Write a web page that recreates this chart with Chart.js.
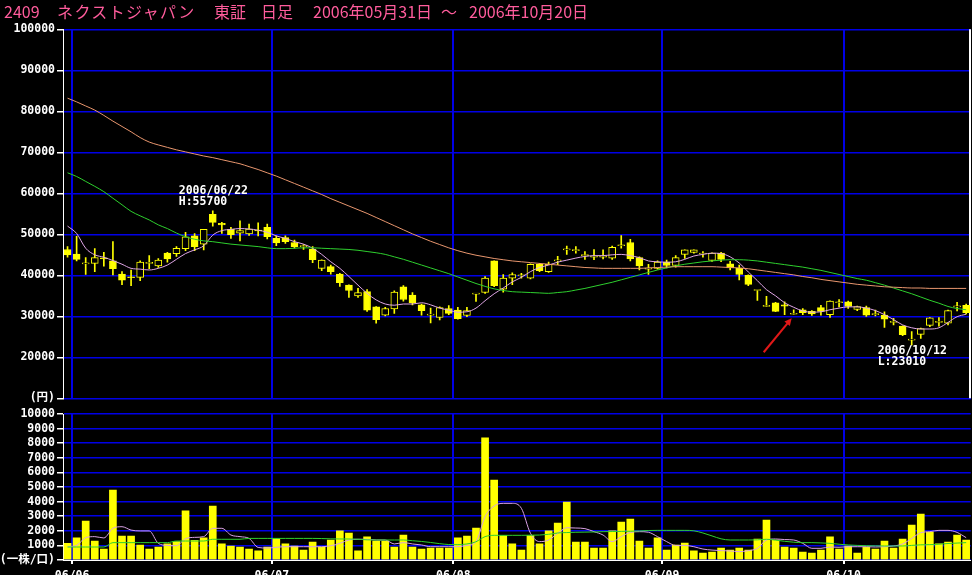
<!DOCTYPE html>
<html>
<head>
<meta charset="utf-8">
<script src="https://cdn.jsdelivr.net/npm/chart.js@4.4.0/dist/chart.umd.min.js"></script>
<style>
html, body { margin: 0; padding: 0; background: #000; }
#wrap { position: relative; width: 972px; height: 575px; overflow: hidden; }
#wrap canvas { position: absolute; left: 0; top: 0; }
#title span { position: absolute; top: 2px; color: #ff5c9c; font-size: 16px; font-family: "Noto Sans CJK JP"; white-space: pre; line-height: 18px; }
</style>
</head>
<body>
<div id="wrap">
  <canvas id="priceChart" width="972" height="575"></canvas>
  <canvas id="volChart" width="972" height="575"></canvas>
  <div id="title">
    <span style="left:4px">2409</span>
    <span style="left:57px;letter-spacing:1.4px">ネクストジャパン</span>
    <span style="left:214px">東証</span>
    <span style="left:261px">日足</span>
    <span style="left:313px">2006年05月31日</span>
    <span style="left:441px">～</span>
    <span style="left:469px">2006年10月20日</span>
  </div>
</div>
<script>
// trading days, 2006/05/31 - 2006/10/20
const tradingDays = [
  ['05', [31]],
  ['06', [1,2,5,6,7,8,9,12,13,14,15,16,19,20,21,22,23,26,27,28,29,30]],
  ['07', [3,4,5,6,7,10,11,12,13,14,18,19,20,21,24,25,26,27,28,31]],
  ['08', [1,2,3,4,7,8,9,10,11,14,15,16,17,18,21,22,23,24,25,28,29,30,31]],
  ['09', [1,4,5,6,7,8,11,12,13,14,15,19,20,21,22,25,26,27,28,29]],
  ['10', [2,3,4,5,6,10,11,12,13,16,17,18,19,20]]
];

const opens = [
  46300,45200,42800,42900,44200,43500,40300,39600,39500,42900,
  42300,45400,45300,46500,49600,47600,54900,52700,51200,50300,
  50100,51000,51700,49000,49200,48000,47000,46400,41700,42100,
  40300,37600,35000,36000,32300,30300,31800,37200,35200,32800,
  30300,29700,31900,31500,30200,35400,35800,43500,36600,39300,
  39900,39300,42700,40900,43500,46200,46000,44800,44400,44400,
  44200,47200,48000,44300,41500,41700,43200,42400,45100,45600,
  45200,43600,45400,42800,41700,40000,36300,32400,33300,32800,
  30500,31600,31200,32100,30400,33300,33500,31700,32100,30400,
  30300,28500,27600,24200,25600,27800,28500,28300,32300,32700
];
const highs = [
  47000,49500,44300,46500,45600,48200,40900,41300,43500,44800,
  44100,45600,47000,50500,50200,51200,55700,52900,51700,53300,
  52500,52800,52500,49600,49600,48600,47500,47000,43800,42500,
  40500,37700,36800,36500,32400,32200,36200,37500,35800,33000,
  32000,32300,32600,32200,32200,35400,39700,43500,40200,40600,
  40500,42800,42900,43200,44600,47100,47000,45800,46300,46200,
  47100,49700,48800,44500,42700,43500,43700,44800,46200,46200,
  45800,45500,45600,43400,42500,40100,36300,34900,33400,33500,
  31600,31900,31400,32700,33800,34100,33700,32500,32500,31500,
  31100,29500,27700,26300,27100,29700,29700,31500,33400,33000
];
const lows = [
  44400,43500,40200,40900,42200,40100,37700,37500,38700,41600,
  41900,43200,44600,46000,46000,46200,52000,50200,49000,48400,
  49700,49600,48900,47200,47800,46600,46300,43100,41100,40300,
  37300,34600,34600,31200,28300,30100,30700,33700,32800,30300,
  28400,29100,30400,29300,29900,33600,35600,37200,35900,37700,
  39300,39100,40900,40700,42600,45100,45400,43900,43800,44000,
  43900,46600,43500,41300,40200,41500,41800,42000,44100,45400,
  44400,43400,43300,41300,38900,37500,33900,32400,31100,30400,
  30500,30400,30200,30300,29700,32300,31900,31400,30000,30100,
  27300,27900,25300,23010,24600,27500,27600,27900,31300,30600
];
const closes = [
  45000,43900,42800,44300,44000,41600,38800,39400,43200,42900,
  43700,44000,46600,49400,47000,51200,52900,52300,49900,50900,
  51300,50800,49400,47900,48200,47000,47000,43800,43700,40900,
  38200,36300,35800,31500,29200,31900,35900,34100,33300,31400,
  30300,32100,30700,29400,31400,35400,39300,37500,39300,40200,
  39900,42700,41100,42700,43500,46200,46000,44800,44400,44400,
  46800,47200,44000,42300,41500,43200,42400,44300,46200,46200,
  45200,45400,43900,41800,40200,37800,36300,32700,31200,32500,
  30500,30900,30600,31200,33700,33300,32400,32400,30300,30400,
  29300,28500,25500,24200,27000,29600,28500,31400,32300,30900
];
const ma5 = [
  52000,50200,46600,45000,44400,43600,42700,41700,41500,41300,
  41700,42500,43900,45300,46200,47200,49800,50900,51200,51400,
  51300,51000,50500,49600,49000,48200,47600,46600,45100,43300,
  41700,39700,37600,35600,34000,33000,32700,33000,33000,33300,
  32800,32000,31500,31000,31100,32000,33800,35500,36900,38400,
  39500,40900,41900,42500,43200,43700,44200,44600,44800,44800,
  45000,45100,44800,44300,43500,43300,43200,43300,43900,44700,
  45100,45400,45300,44500,43000,40800,38700,36500,35000,33300,
  32200,31300,31000,31100,31600,32000,32300,32300,32000,31400,
  30400,29200,27900,27200,26900,26900,27200,28500,29900,30500
];
const ma25 = [
  65000,64100,62900,61700,60400,58800,57200,55600,54500,53500,
  52300,51400,50300,49400,48800,48400,48200,47900,47600,47400,
  47200,47000,46700,46500,46500,46600,46700,46700,46600,46500,
  46400,46300,46100,45800,45500,45100,44500,43900,43200,42500,
  41800,41100,40400,39600,38800,38000,37300,36700,36300,36000,
  35900,35800,35700,35600,35800,36000,36400,36800,37300,37800,
  38300,38900,39500,40100,40700,41300,41800,42300,42700,43000,
  43300,43500,43700,43800,43800,43700,43500,43200,42900,42600,
  42300,42000,41600,41200,40700,40200,39700,39200,38800,38200,
  37600,36900,36200,35500,34700,33900,33200,32400,31900,31600
];
const ma75 = [
  83200,82300,81300,80300,79000,77600,76300,75000,73600,72500,
  71800,71200,70600,70100,69600,69100,68700,68200,67700,67200,
  66500,65800,65000,64200,63300,62400,61500,60600,59700,58700,
  57800,56900,56000,55100,54100,53100,52100,51100,50100,49200,
  48300,47500,46700,46000,45400,44900,44500,44100,43800,43500,
  43300,43100,42900,42700,42500,42300,42100,41900,41800,41700,
  41700,41700,41700,41700,41800,41900,42000,42100,42100,42100,
  42100,42100,42000,41900,41800,41600,41300,41000,40700,40400,
  40100,39700,39400,39000,38700,38400,38100,37800,37600,37400,
  37200,37100,37000,36900,36900,36800,36800,36800,36800,36800
];
const volumes = [
  1140,1510,2670,1300,750,4790,1640,1640,1030,750,
  890,1100,1260,3360,1350,1510,3700,1100,960,890,
  750,620,890,1460,1100,960,680,1230,890,1370,
  1990,1850,620,1580,1300,1300,890,1710,890,750,
  820,820,820,1510,1640,2190,8360,5480,1670,1100,
  680,1670,1100,1990,2530,3970,1230,1230,820,820,
  1990,2600,2810,1300,820,1510,680,1030,1160,620,
  480,550,820,680,820,680,1440,2740,1370,890,
  820,550,480,680,1580,750,960,480,890,750,
  1300,820,1440,2400,3150,1920,1100,1230,1710,1370
];
const volMa5 = [
  910,1000,1530,1600,1510,2170,2280,2050,1990,1990,
  1140,1000,980,1460,1550,1600,2170,2170,1710,1600,
  1480,860,820,870,910,910,910,910,910,980,
  1140,1370,1420,1420,1370,1370,1100,1190,1100,1030,
  910,910,910,910,1000,1260,2970,3700,3880,3880,
  3540,1830,1260,1370,1830,2210,2190,2150,1940,1710,
  1260,1600,1890,1940,1900,1600,1260,1000,1000,910,
  750,680,640,620,570,640,800,1370,1440,1400,
  1370,1140,800,800,890,870,910,910,910,890,
  910,960,1100,1480,1870,1940,2030,2030,1890,1530
];
const volMa25 = [
  890,890,890,890,890,1190,1190,1190,1190,1190,
  1190,1190,1300,1300,1300,1300,1420,1420,1420,1420,
  1480,1480,1480,1480,1480,1480,1480,1480,1470,1450,
  1440,1440,1420,1380,1370,1370,1370,1370,1320,1270,
  1200,1120,1060,1050,1100,1250,1600,1690,1690,1690,
  1690,1700,1710,1760,1850,1880,1900,1910,1920,1940,
  1950,1960,1970,1990,2020,2030,2030,2030,2030,2000,
  1850,1650,1450,1370,1370,1370,1380,1420,1360,1280,
  1220,1190,1190,1170,1140,1080,1030,1000,980,970,
  960,960,960,1000,1040,1050,1080,1130,1160,1190
];

const labels = [];
tradingDays.forEach(([m, days]) => {
  days.forEach(d => labels.push('2006/' + m + '/' + String(d).padStart(2, '0')));
});
const monthStart = labels.map((d, i) => i > 0 && d.slice(5, 7) !== labels[i - 1].slice(5, 7));

const yellow = '#ffff00';
const blue = '#0000e6';
const white = '#ffffff';
const axisFont = { family: '"DejaVu Sans Mono", "Noto Sans CJK JP"', size: 11.5, weight: 'bold' };

const hiIdx = highs.indexOf(Math.max(...highs));
const loIdx = lows.indexOf(Math.min(...lows));
const arrowIdx = 80;

// vertical month separators, drawn between the last and first day of each month
const monthLines = (withTicks, edgeColor) => ({
  id: 'monthLines',
  beforeDatasetsDraw(chart) {
    const { ctx, chartArea: a, scales: { x } } = chart;
    ctx.save();
    ctx.lineWidth = 2;
    monthStart.forEach((m, i) => {
      if (!m) return;
      const px = Math.round((x.getPixelForValue(i - 1) + x.getPixelForValue(i)) / 2);
      ctx.strokeStyle = blue;
      ctx.beginPath();
      ctx.moveTo(px, a.top);
      ctx.lineTo(px, a.bottom);
      ctx.stroke();
      if (withTicks) {
        ctx.strokeStyle = white;
        ctx.beginPath();
        ctx.moveTo(px, a.bottom);
        ctx.lineTo(px, a.bottom + 4);
        ctx.stroke();
      }
    });
    if (edgeColor) {
      const ex = Math.round(a.right - 1);
      ctx.strokeStyle = edgeColor;
      ctx.beginPath();
      ctx.moveTo(ex, a.top);
      ctx.lineTo(ex, a.bottom);
      ctx.stroke();
    }
    ctx.restore();
  }
});

// H / L notes and the red arrow
const notesPlugin = {
  id: 'notes',
  afterDatasetsDraw(chart) {
    const { ctx, scales: { x, y } } = chart;
    ctx.save();
    ctx.fillStyle = white;
    ctx.font = 'bold 11.5px "DejaVu Sans Mono"';
    ctx.textBaseline = 'alphabetic';
    const hx = x.getPixelForValue(hiIdx), hy = y.getPixelForValue(highs[hiIdx]);
    ctx.fillText(labels[hiIdx], hx - 34, hy - 17);
    ctx.fillText('H:' + highs[hiIdx], hx - 34, hy - 6);
    const lx = x.getPixelForValue(loIdx), ly = y.getPixelForValue(lows[loIdx]);
    ctx.fillText(labels[loIdx], lx - 34, ly + 9);
    ctx.fillText('L:' + lows[loIdx], lx - 34, ly + 20);

    const ax = x.getPixelForValue(arrowIdx) - 2, ay = y.getPixelForValue(lows[arrowIdx]) + 4;
    const tx = ax - 28, ty = ay + 34;
    const ang = Math.atan2(ay - ty, ax - tx);
    ctx.strokeStyle = '#e01818';
    ctx.fillStyle = '#e01818';
    ctx.lineWidth = 2;
    ctx.beginPath();
    ctx.moveTo(tx, ty);
    ctx.lineTo(ax - 5 * Math.cos(ang), ay - 5 * Math.sin(ang));
    ctx.stroke();
    ctx.beginPath();
    ctx.moveTo(ax, ay);
    ctx.lineTo(ax - 8 * Math.cos(ang - 0.45), ay - 8 * Math.sin(ang - 0.45));
    ctx.lineTo(ax - 8 * Math.cos(ang + 0.45), ay - 8 * Math.sin(ang + 0.45));
    ctx.closePath();
    ctx.fill();
    ctx.restore();
  }
};

const maLine = (data, color) => ({
  type: 'line', data, borderColor: color, borderWidth: 1, pointRadius: 0,
  cubicInterpolationMode: 'monotone', order: 0
});

// price chart
new Chart(document.getElementById('priceChart'), {
  type: 'bar',
  data: {
    labels,
    datasets: [
      maLine(ma75, '#e8966e'),
      maLine(ma25, '#2ed02e'),
      maLine(ma5, '#e0a6e6'),
      {
        data: opens.map((o, i) => [o, closes[i]]),
        backgroundColor: opens.map((o, i) => closes[i] < o ? yellow : '#000000'),
        borderColor: yellow, borderWidth: 1, borderSkipped: false,
        barThickness: 7, minBarLength: 1, grouped: false, order: 1
      },
      {
        data: lows.map((l, i) => [l, highs[i]]),
        backgroundColor: yellow, borderWidth: 0,
        barThickness: 1, grouped: false, order: 2
      }
    ]
  },
  options: {
    responsive: false,
    animation: false,
    events: [],
    layout: { padding: { top: 29.3, left: 0, right: 1.3, bottom: 176.7 } },
    plugins: { legend: { display: false }, tooltip: { enabled: false } },
    scales: {
      x: {
        offset: true,
        afterFit: s => { s.height = 0; },
        ticks: { display: false, autoSkip: false },
        grid: { display: false },
        border: { color: blue }
      },
      y: {
        min: 10000, max: 100000,
        afterFit: s => { s.width = 63; },
        ticks: { stepSize: 10000, autoSkip: false, color: white, font: axisFont, padding: 2,
          callback: v => v === 10000 ? '(円)' : String(v) },
        grid: { color: blue, tickColor: white, tickLength: 6, lineWidth: 1.5 },
        border: { color: white }
      }
    }
  },
  plugins: [monthLines(false, white), notesPlugin]
});

// volume chart
new Chart(document.getElementById('volChart'), {
  type: 'bar',
  data: {
    labels,
    datasets: [
      maLine(volMa25, '#2ed02e'),
      maLine(volMa5, '#d8a0e4'),
      { data: volumes, backgroundColor: yellow, borderWidth: 0, barThickness: 7, order: 1 }
    ]
  },
  options: {
    responsive: false,
    animation: false,
    events: [],
    layout: { padding: { top: 414, left: 0, right: 1.3, bottom: 0 } },
    plugins: { legend: { display: false }, tooltip: { enabled: false } },
    scales: {
      x: {
        offset: true,
        afterFit: s => { s.height = 15; },
        ticks: {
          autoSkip: false, maxRotation: 0, minRotation: 0, padding: 1, labelOffset: -4.5,
          color: white, font: axisFont,
          callback: (v, i) => monthStart[i] ? labels[i].slice(2, 7) : ''
        },
        grid: { display: false },
        border: { color: white }
      },
      y: {
        min: 0, max: 10000,
        afterFit: s => { s.width = 63; },
        ticks: { stepSize: 1000, autoSkip: false, color: white, font: axisFont, padding: 2,
          callback: v => v === 0 ? '(一株/口)' : String(v) },
        grid: { color: blue, tickColor: white, tickLength: 6, lineWidth: 1.5 },
        border: { color: white }
      }
    }
  },
  plugins: [monthLines(true, null)]
});
</script>
</body>
</html>
